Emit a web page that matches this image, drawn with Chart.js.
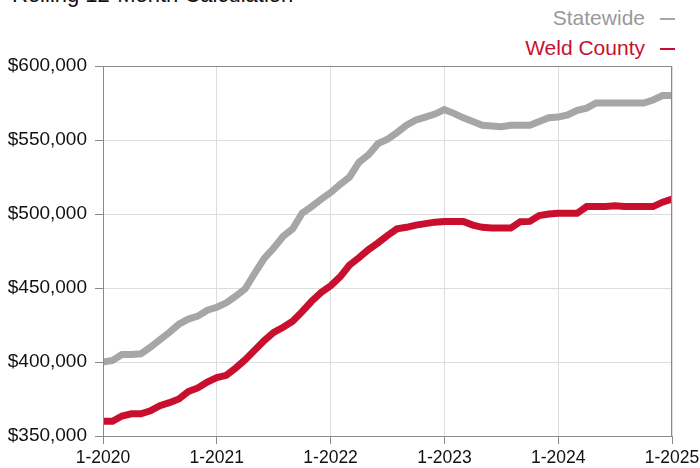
<!DOCTYPE html>
<html>
<head>
<meta charset="utf-8">
<script src="https://cdn.jsdelivr.net/npm/chart.js@4.4.1/dist/chart.umd.min.js"></script>
<style>
  html, body { margin: 0; padding: 0; background: #fff; overflow: hidden; }
  #wrap { position: relative; width: 700px; height: 468px; font-family: "Liberation Sans", Arial, Helvetica, sans-serif; }
  #title { position: absolute; left: 12px; top: -16px; font-size: 22px; line-height: 22px; color: #111; white-space: nowrap; }
  .leg { position: absolute; right: 25px; font-size: 21px; line-height: 30px; white-space: nowrap; }
  .leg span { display: inline-block; width: 15px; height: 2px; margin-left: 15px; vertical-align: middle; }
  #chart { position: absolute; left: 0; top: 0; }
</style>
</head>
<body>
<div id="wrap">
  <div id="title">Rolling 12-Month Calculation</div>
  <div class="leg" id="leg0" style="top:3px;"></div>
  <div class="leg" id="leg1" style="top:33px;"></div>
  <canvas id="chart" width="700" height="468"></canvas>
</div>
<script>
// Monthly points, 1-2020 through 1-2025
const tickLabels = ["1-2020", "1-2021", "1-2022", "1-2023", "1-2024", "1-2025"];
const seriesNames = ["Statewide", "Weld County"];
const seriesColors = ["#a6a6a6", "#c8102e"];

const statewide = [
  400000, 401000, 405000, 405000, 405500, 410000, 415000, 420000, 425500, 429000, 431000, 435000,
  437000, 440000, 444500, 449500, 460000, 470000, 477000, 485000, 490000, 500500, 505000, 510000,
  514500, 520000, 525000, 535000, 540000, 547500, 550500, 555000, 560000, 563500, 565500, 567500,
  570500, 568000, 565000, 562500, 560000, 559500, 559000, 560000, 560000, 560000, 562500, 565000,
  565500, 567000, 570000, 571500, 575000, 575000, 575000, 575000, 575000, 575000, 577000, 580000,
  580000
];
const weldCounty = [
  360000, 360000, 363500, 365000, 365000, 367000, 370500, 372500, 375000, 380000, 382500, 386500,
  389500, 391000, 396000, 401500, 408000, 414500, 420000, 423500, 427500, 434000, 441000, 447000,
  451500, 457500, 465500, 470500, 476000, 480500, 485500, 490000, 491000, 492500, 493500, 494500,
  495000, 495000, 495000, 492500, 491000, 490500, 490500, 490500, 494800, 495000, 499000, 500000,
  500500, 500500, 500500, 505000, 505000, 505000, 505500, 505000, 505000, 505000, 505000, 508000,
  510000
];

// legend in html, text then a short dash
seriesNames.forEach((name, i) => {
  const el = document.getElementById("leg" + i);
  el.style.color = i === 0 ? "#999999" : seriesColors[i];
  el.innerHTML = name + '<span style="background:' + seriesColors[i] + '"></span>';
});

const toPoints = (arr) => arr.map((v, i) => ({ x: i, y: v }));

// outline around the plot area
const frame = {
  id: "frame",
  afterDatasetsDraw(chart) {
    const { ctx, chartArea: a } = chart;
    ctx.save();
    ctx.strokeStyle = "#8a8a8a";
    ctx.lineWidth = 1;
    ctx.strokeRect(a.left + 0.5, a.top + 0.5, a.right - a.left - 1, a.bottom - a.top);
    ctx.restore();
  },
};

const ctx = document.getElementById("chart").getContext("2d");
new Chart(ctx, {
  type: "line",
  data: {
    datasets: [
      {
        label: seriesNames[0],
        data: toPoints(statewide),
        borderColor: seriesColors[0],
        borderWidth: 7,
        pointRadius: 0,
        tension: 0,
      },
      {
        label: seriesNames[1],
        data: toPoints(weldCounty),
        borderColor: seriesColors[1],
        borderWidth: 7,
        pointRadius: 0,
        tension: 0,
      },
    ],
  },
  options: {
    responsive: false,
    animation: false,
    layout: { padding: { top: 66, left: 0, right: 28, bottom: 0 } },
    plugins: {
      legend: { display: false },
      tooltip: { enabled: false },
    },
    scales: {
      x: {
        type: "linear",
        min: 0,
        max: 60,
        afterFit: (s) => { s.height = 32; s.paddingRight = 0; },
        ticks: {
          stepSize: 12,
          padding: 4,
          color: "#111",
          font: { family: "'Liberation Sans', Arial, sans-serif", size: 17.5 },
          maxRotation: 0,
          callback: (v) => tickLabels[v / 12],
        },
        grid: { color: "#dddddd", tickColor: "#8a8a8a", tickLength: 8 },
        border: { color: "#8a8a8a" },
      },
      y: {
        min: 350000,
        max: 600000,
        afterFit: (s) => { s.width = 103; },
        ticks: {
          stepSize: 50000,
          padding: 8,
          color: "#111",
          font: { family: "'Liberation Sans', Arial, sans-serif", size: 19 },
          callback: (v) => "$" + v.toLocaleString("en-US"),
        },
        grid: { color: "#dddddd", tickColor: "#8a8a8a", tickLength: 8 },
        border: { color: "#8a8a8a" },
      },
    },
  },
  plugins: [frame],
});
</script>
</body>
</html>
